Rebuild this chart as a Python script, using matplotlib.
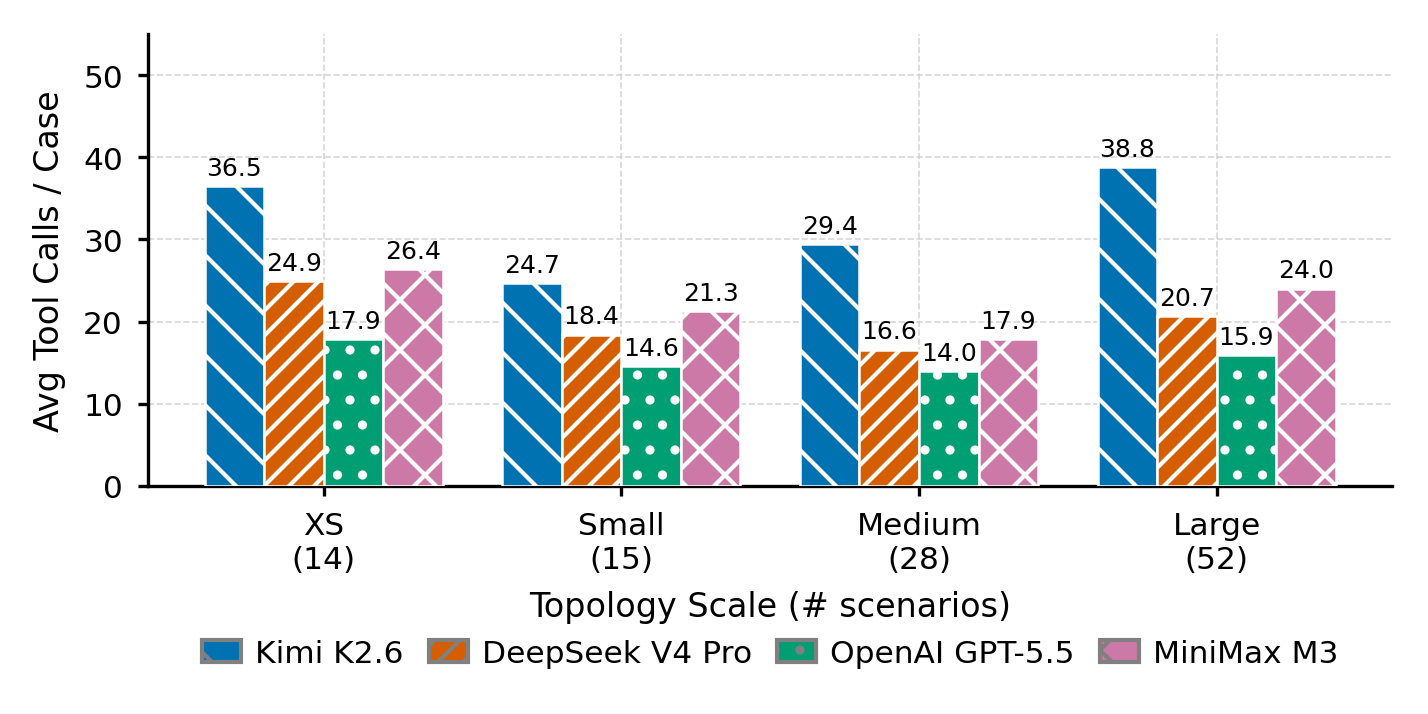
import numpy as np
import matplotlib
matplotlib.use("Agg")
import matplotlib.pyplot as plt
from matplotlib.patches import Patch

# Data
scales = ["XS\n(14)", "Small\n(15)", "Medium\n(28)", "Large\n(52)"]
models = ["Kimi K2.6", "DeepSeek V4 Pro", "OpenAI GPT-5.5", "MiniMax M3"]
kimi = [36.5, 24.7, 29.4, 38.8]
deepseek = [24.9, 18.4, 16.6, 20.7]
gpt = [17.9, 14.6, 14.0, 15.9]
minimax = [26.4, 21.3, 17.9, 24.0]

colors = ["#0072B2", "#D55E00", "#009E73", "#CC79A7"]
hatches = ["\\\\", "////", "..", "xx"]

plt.rcParams["hatch.linewidth"] = 1.0

fig, ax = plt.subplots(figsize=(4.76, 2.3833), dpi=300)
x = np.arange(len(scales))
width = 0.2
series = [kimi, deepseek, gpt, minimax]

for i, vals in enumerate(series):
    offset = (i - 1.5) * width
    bars = ax.bar(x + offset, vals, width, color=colors[i], hatch=hatches[i],
                  edgecolor="white", linewidth=0.6, zorder=3)
    # value labels on top of each bar
    for b, v in zip(bars, vals):
        ax.annotate(f"{v:.1f}", (b.get_x() + b.get_width() / 2, v),
                    xytext=(0, 1.5), textcoords="offset points",
                    ha="center", va="bottom", fontsize=6)

ax.set_ylim(0, 55)
ax.set_xticks(x)
ax.set_xticklabels(scales)
ax.tick_params(axis="both", labelsize=7.5, length=2.5, width=0.8)
ax.set_ylabel("Avg Tool Calls / Case", fontsize=8)
ax.set_xlabel("Topology Scale (# scenarios)", fontsize=8)
ax.grid(True, linestyle="--", color="#cccccc", linewidth=0.4, alpha=0.8, zorder=0)
ax.spines["top"].set_visible(False)
ax.spines["right"].set_visible(False)

handles = [Patch(facecolor=c, edgecolor="gray", hatch=h, linewidth=1.0)
           for c, h in zip(colors, hatches)]
ax.legend(handles, models, loc="center", bbox_to_anchor=(0.5, -0.37),
          ncol=4, frameon=False, fontsize=7.5, handlelength=1.25,
          handletextpad=0.45, columnspacing=0.8)

fig.subplots_adjust(left=0.1036, right=0.975, top=0.951, bottom=0.319)
fig.savefig("out.png", dpi=300)
